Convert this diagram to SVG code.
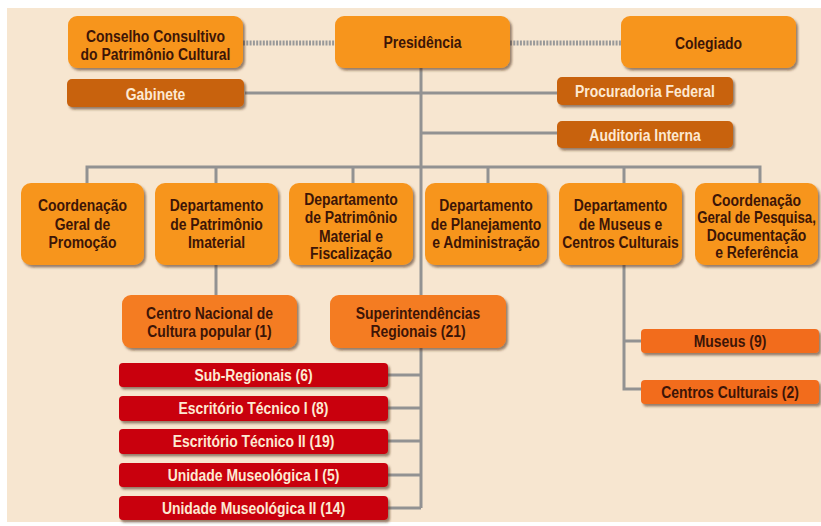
<svg xmlns="http://www.w3.org/2000/svg" width="821" height="526" viewBox="0 0 821 526">
<defs>
<filter id="sh" x="-10%" y="-20%" width="130%" height="160%">
<feDropShadow dx="2" dy="2.5" stdDeviation="1.2" flood-color="#4a2a10" flood-opacity="0.55"/>
</filter>
<style>
.t{font-family:"Liberation Sans",Arial,sans-serif;font-weight:bold;font-size:16px;text-anchor:middle}
.dk{fill:#3d1507}
.lt{fill:#fde9d2}
.top{fill:#f7951e;filter:url(#sh)}
.brn{fill:#c8620f;filter:url(#sh)}
.mid{fill:#f47b20;filter:url(#sh)}
.red{fill:#c9000b;filter:url(#sh)}
.ora{fill:#f26c1f;filter:url(#sh)}
.ln{fill:none;stroke:#929292;stroke-width:3}
.ds{fill:none;stroke:#999;stroke-width:5;stroke-dasharray:2 1.3}
</style>
</defs>
<rect x="0" y="0" width="821" height="526" fill="#ffffff"/>
<rect x="7" y="8" width="814" height="514" fill="#f7e6d0"/>
<g id="connectors">
<path class="ds" d="M243,43 H335 M510,43 H621"/>
<path class="ln" d="M421,68 V295 M421,348 V508"/>
<path class="ln" d="M245,93 H557 M421,133 H557"/>
<path class="ln" d="M87,183 V167 H760 V183 M216,167 V183 M353,167 V183 M488,167 V183 M624,167 V183"/>
<path class="ln" d="M216,265 V295"/>
<path class="ln" d="M624,265 V389 H641 M624,341 H641"/>
<path class="ln" d="M388,375 H421 M388,408 H421 M388,441 H421 M388,475 H421 M388,508 H421"/>
</g>
<g id="conselho"><rect class="top" x="68" y="16" width="175" height="52" rx="9"/><text class="t dk" transform="translate(155.5 41.5) scale(.87 1)">Conselho Consultivo</text><text class="t dk" transform="translate(155.5 59.5) scale(.87 1)">do Patrimônio Cultural</text></g>
<g id="presidencia"><rect class="top" x="335" y="16" width="175" height="52" rx="9"/><text class="t dk" transform="translate(422.5 48) scale(.87 1)">Presidência</text></g>
<g id="colegiado"><rect class="top" x="621" y="16" width="175" height="52" rx="9"/><text class="t dk" transform="translate(708.5 49) scale(.87 1)">Colegiado</text></g>
<g id="gabinete"><rect class="brn" x="67" y="79" width="177" height="28" rx="5"/><text class="t lt" transform="translate(155.5 99.5) scale(.87 1)">Gabinete</text></g>
<g id="procuradoria"><rect class="brn" x="557" y="77" width="176" height="28" rx="5"/><text class="t lt" transform="translate(645 97.3) scale(.87 1)">Procuradoria Federal</text></g>
<g id="auditoria"><rect class="brn" x="557" y="121" width="176" height="27" rx="5"/><text class="t lt" transform="translate(645 140.5) scale(.87 1)">Auditoria Interna</text></g>
<g id="cg-promocao"><rect class="top" x="21" y="183" width="123" height="82" rx="10"/><text class="t dk" transform="translate(82.5 210.7) scale(.87 1)">Coordenação</text><text class="t dk" transform="translate(82.5 229.5) scale(.87 1)">Geral de</text><text class="t dk" transform="translate(82.5 248.3) scale(.87 1)">Promoção</text></g>
<g id="dep-imaterial"><rect class="top" x="155" y="183" width="123" height="82" rx="10"/><text class="t dk" transform="translate(216.5 210.7) scale(.87 1)">Departamento</text><text class="t dk" transform="translate(216.5 229.5) scale(.87 1)">de Patrimônio</text><text class="t dk" transform="translate(216.5 248.3) scale(.87 1)">Imaterial</text></g>
<g id="dep-material"><rect class="top" x="289" y="183" width="124" height="82" rx="10"/><text class="t dk" transform="translate(351 205.3) scale(.87 1)">Departamento</text><text class="t dk" transform="translate(351 223.3) scale(.87 1)">de Patrimônio</text><text class="t dk" transform="translate(351 241.5) scale(.87 1)">Material e</text><text class="t dk" transform="translate(351 259.3) scale(.87 1)">Fiscalização</text></g>
<g id="dep-planejamento"><rect class="top" x="425" y="183" width="122" height="82" rx="10"/><text class="t dk" transform="translate(486 210.7) scale(.87 1)">Departamento</text><text class="t dk" transform="translate(486 229.5) scale(.87 1)">de Planejamento</text><text class="t dk" transform="translate(486 248.3) scale(.87 1)">e Administração</text></g>
<g id="dep-museus"><rect class="top" x="559" y="183" width="123" height="82" rx="10"/><text class="t dk" transform="translate(620.5 210.7) scale(.87 1)">Departamento</text><text class="t dk" transform="translate(620.5 229.5) scale(.87 1)">de Museus e</text><text class="t dk" transform="translate(620.5 248.3) scale(.87 1)">Centros Culturais</text></g>
<g id="cg-pesquisa"><rect class="top" x="695" y="183" width="123" height="82" rx="10"/><text class="t dk" transform="translate(756.5 205.7) scale(.87 1)">Coordenação</text><text class="t dk" transform="translate(756.5 223.3) scale(.83 1)">Geral de Pesquisa,</text><text class="t dk" transform="translate(756.5 240.5) scale(.87 1)">Documentação</text><text class="t dk" transform="translate(756.5 257.5) scale(.87 1)">e Referência</text></g>
<g id="cnfcp"><rect class="mid" x="122" y="295" width="175" height="53" rx="9"/><text class="t dk" transform="translate(209.5 319.3) scale(.87 1)">Centro Nacional de</text><text class="t dk" transform="translate(209.5 337.3) scale(.87 1)">Cultura popular (1)</text></g>
<g id="superintendencias"><rect class="mid" x="330" y="295" width="176" height="53" rx="9"/><text class="t dk" transform="translate(418 319.3) scale(.87 1)">Superintendências</text><text class="t dk" transform="translate(418 337.3) scale(.87 1)">Regionais (21)</text></g>
<g id="sub-regionais"><rect class="red" x="119" y="363" width="269" height="24" rx="4"/><text class="t lt" transform="translate(253.5 380.7) scale(.87 1)">Sub-Regionais (6)</text></g>
<g id="escritorio-1"><rect class="red" x="119" y="396" width="269" height="25" rx="4"/><text class="t lt" transform="translate(253.5 414) scale(.87 1)">Escritório Técnico I (8)</text></g>
<g id="escritorio-2"><rect class="red" x="119" y="429" width="269" height="25" rx="4"/><text class="t lt" transform="translate(253.5 447.3) scale(.87 1)">Escritório Técnico II (19)</text></g>
<g id="unidade-1"><rect class="red" x="119" y="463" width="269" height="24" rx="4"/><text class="t lt" transform="translate(253.5 480.7) scale(.87 1)">Unidade Museológica I (5)</text></g>
<g id="unidade-2"><rect class="red" x="119" y="496" width="269" height="24" rx="4"/><text class="t lt" transform="translate(253.5 514) scale(.87 1)">Unidade Museológica II (14)</text></g>
<g id="museus"><rect class="ora" x="641" y="329" width="178" height="24" rx="4"/><text class="t dk" transform="translate(730 346.5) scale(.87 1)">Museus (9)</text></g>
<g id="centros"><rect class="ora" x="641" y="380" width="178" height="24" rx="4"/><text class="t dk" transform="translate(730 397.5) scale(.87 1)">Centros Culturais (2)</text></g>
</svg>
